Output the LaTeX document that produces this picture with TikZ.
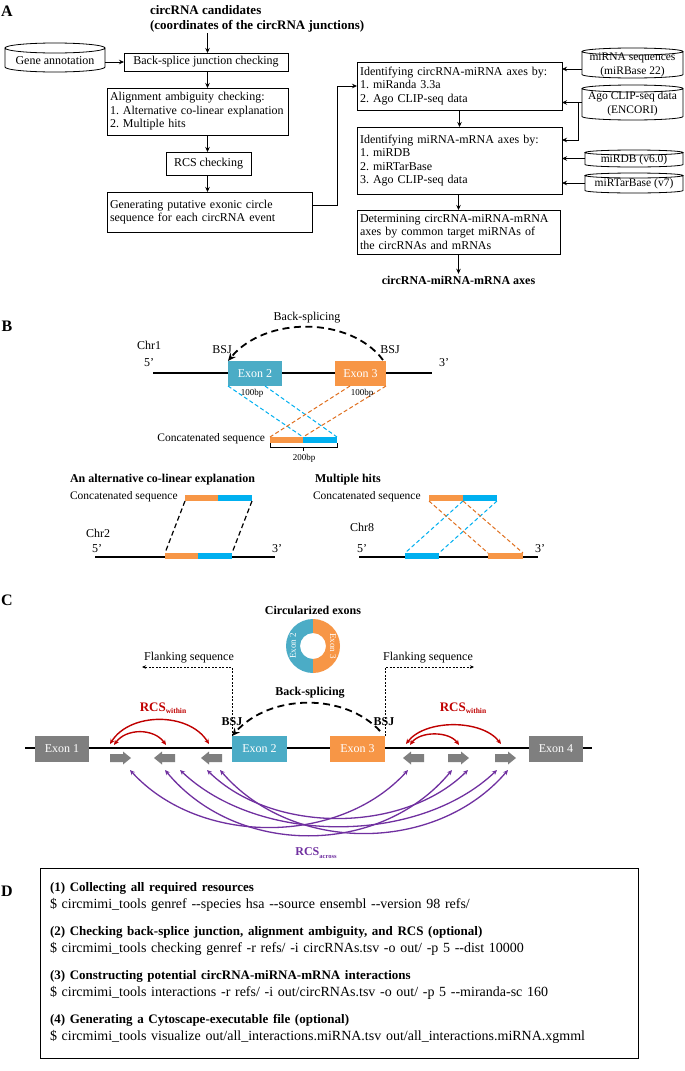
\documentclass[tikz,border=0pt]{standalone}
\usepackage{fontspec}
\setmainfont{Liberation Serif}
\usetikzlibrary{arrows.meta,calc}
\definecolor{exteal}{HTML}{4BACC6}
\definecolor{exorange}{HTML}{F79646}
\definecolor{barblue}{HTML}{00B0F0}
\definecolor{dorange}{HTML}{E07020}
\definecolor{exgray}{HTML}{7F7F7F}
\definecolor{rcsred}{HTML}{C00000}
\definecolor{rcspurple}{HTML}{7030A0}
\newcommand\drum[2][5pt]{%
  \draw[line width=0.8pt] let \p1=(#2.north west), \p2=(#2.south east), \n1={0.5*(\x2-\x1)} in
    ({0.5*(\x1+\x2)},\y1-#1) ellipse[x radius=\n1, y radius=#1]
    (\x1,\y1-#1) -- (\x1,\y2+#1) arc[start angle=180,end angle=360,x radius=\n1,y radius=#1] -- (\x2,\y1-#1);}
\newcommand\garrow[3]{%
  \fill[exgray, shift={(#1,#2)}, xscale=#3] (-10.5,-4) -- (2.5,-4) -- (2.5,-6.5) -- (10.5,0) -- (2.5,6.5) -- (2.5,4) -- (-10.5,4) -- cycle;}
\begin{document}
\frenchspacing\hyphenpenalty=10000\exhyphenpenalty=10000
\begin{tikzpicture}[x=1pt,y=-1pt,
  every node/.style={inner sep=0pt, outer sep=0pt, font=\fontsize{12}{13.5}\selectfont},
  lbl/.style={font=\fontsize{16}{16}\selectfont\bfseries},
  titl/.style={font=\fontsize{13}{15}\selectfont\bfseries},
  bold12/.style={font=\fontsize{12}{13.5}\selectfont\bfseries},
  small/.style={font=\fontsize{9}{10}\selectfont},
  cs/.style={font=\fontsize{11.5}{13}\selectfont},
  cyt/.style={align=center, font=\fontsize{11.5}{14}\selectfont},
  box/.style={draw, line width=0.8pt},
  lbox/.style={box, align=left, inner xsep=3pt},
  cyl/.style={draw=none},
  arr/.style={-{Stealth[length=5pt,width=4.5pt]}, line width=0.8pt},
  chrom/.style={line width=2pt},
  exbox/.style={text=white, font=\fontsize{12}{13.5}\selectfont},
  bar/.style={minimum height=6pt},
  bdash/.style={barblue, dashed, line width=1pt, dash pattern=on 4pt off 2.5pt},
  odash/.style={dorange, dashed, line width=1pt, dash pattern=on 4pt off 2.5pt},
  kdash/.style={black, line width=1.2pt, dash pattern=on 5pt off 3pt},
  bsarc/.style={line width=1.8pt, dash pattern=on 7pt off 4.5pt, -{Stealth[length=8pt,width=7pt]}},
  flank/.style={line width=0.7pt, dash pattern=on 2pt off 1.5pt, -{Stealth[length=4pt,width=3.5pt]}},
  rcsr/.style={rcsred, line width=1.4pt, {Stealth[length=5pt,width=4.5pt]}-{Stealth[length=5pt,width=4.5pt]}},
  rcsp/.style={rcspurple, line width=1.3pt, {Stealth[length=5pt,width=4.5pt]}-{Stealth[length=5pt,width=4.5pt]}}
]
\useasboundingbox[fill=white] (0,0) rectangle (685,1071);

% ================= Panel A =================
\node[lbl] (labA) at (7,11) {A};
\node[titl, anchor=west] (cand1) at (150,10) {circRNA candidates};
\node[titl, anchor=west] (cand2) at (150,26) {(coordinates of the circRNA junctions)};
\coordinate (colA) at (207.5,0);
\coordinate (cstart) at (207.5,33);
\node[box, minimum width=164pt, minimum height=18pt] (bsj) at (206,62) {Back-splice junction checking};
\draw[arr] (cstart) -- (bsj.north -| colA);

\node[cyl, minimum width=100pt, minimum height=29pt] (ga) at (55,57.5) {};
\drum{ga}
\node (gat) at (55,61) {Gene annotation};
\draw[arr] (ga.east |- bsj.west) -- (bsj.west);

\node[lbox, text width=175pt, minimum height=47pt] (aa) at (197.5,111.5)
  {Alignment ambiguity checking:\\1. Alternative co-linear explanation\\2. Multiple hits};
\draw[arr] (bsj.south -| colA) -- (aa.north -| colA);
\node[box, minimum width=85pt, minimum height=23pt] (rcs) at (208.5,163.5) {RCS checking};
\draw[arr] (aa.south -| colA) -- (rcs.north -| colA);
\node[lbox, text width=199pt, minimum height=40pt] (gen) at (209.5,212)
  {Generating putative exonic circle\\sequence for each circRNA event};
\draw[arr] (rcs.south -| colA) -- (gen.north -| colA);

\node[lbox, text width=199pt, minimum height=48pt] (cm) at (459.5,86)
  {Identifying circRNA-miRNA axes by:\\1. miRanda 3.3a\\2. Ago CLIP-seq data};
\draw[arr] ([yshift=7pt]gen.east) -- ++(25,0) |- (cm.west);

\node[lbox, text width=199pt, minimum height=67pt] (mm) at (459.5,160.5)
  {Identifying miRNA-mRNA axes by:\\1. miRDB\\2. miRTarBase\\3. Ago CLIP-seq data};
\draw[arr] (cm.south) -- (mm.north);

\node[cyl, minimum width=101pt, minimum height=30pt] (mirna) at (632.5,63) {};
\drum[3.5pt]{mirna}
\node[cyt] (mirnat) at (632.5,64.5) {miRNA sequences\\(miRBase 22)};
\draw[arr] ([yshift=-6pt]mirna.west) -- ([yshift=-6pt]mirna.west -| cm.east);

\node[cyl, minimum width=101pt, minimum height=35pt] (ago) at (632.5,102.5) {};
\drum[3.5pt]{ago}
\node[cyt] (agot) at (632.5,103.5) {Ago CLIP-seq data\\(ENCORI)};
\draw[arr] (ago.west) -- (ago.west -| cm.east);
\draw[arr] ([xshift=-4pt]ago.west) |- ([yshift=20.5pt]mm.east);

\node[cyl, minimum width=98pt, minimum height=17pt] (mirdb) at (634,158.5) {};
\drum[2.5pt]{mirdb}
\node[cyt] (mirdbt) at (634,159.5) {miRDB (v6.0)};
\draw[arr] (mirdb.west) -- (mirdb.west -| mm.east);

\node[cyl, minimum width=98pt, minimum height=20pt] (mirtar) at (634,183) {};
\drum[2.5pt]{mirtar}
\node[cyt] (mirtart) at (634,184) {miRTarBase (v7)};
\draw[arr] (mirtar.west) -- (mirtar.west -| mm.east);

\node[lbox, text width=197pt, minimum height=44pt] (det) at (458.5,232)
  {Determining circRNA-miRNA-mRNA\\axes by common target miRNAs of\\the circRNAs and mRNAs};
\draw[arr] (mm.south -| det.north) -- (det.north);
\node[bold12] (axes) at (458.5,280) {circRNA-miRNA-mRNA axes};
\draw[arr] (det.south) -- ([yshift=2pt]axes.north);

% ================= Panel B =================
\node[lbl] (labB) at (7,326) {B};
\node (bsB) at (307,318) {Back-splicing};
\node (chr1) at (149,345) {Chr1};
\node (p5a) at (149,363) {5’};
\node (p3a) at (444,363) {3’};
\coordinate (c1l) at (153,373);
\coordinate (c1r) at (432,373);
\draw[chrom] (c1l) -- (c1r);
\node[exbox, fill=exteal, minimum width=54pt, minimum height=25pt] (e2) at (255,373.5) {Exon 2};
\node[exbox, fill=exorange, minimum width=51pt, minimum height=25pt] (e3) at (360.5,373.5) {Exon 3};
\node (bsjL) at (222,350) {BSJ};
\node (bsjR) at (390,350) {BSJ};
\draw[bsarc] ([shift={(-3,-1)}]e3.north east) .. controls (350,316) and (265,316) .. (e2.north west);

\node[bar, fill=exorange, minimum width=33pt] (cbo) at (286.5,440) {};
\node[bar, fill=barblue, minimum width=34pt] (cbb) at (320,440) {};
\draw[bdash] (e2.south west) -- (cbb.north west);
\draw[bdash] ([xshift=37pt]e2.south west) -- (cbb.north east);
\draw[odash] ([xshift=-36pt]e3.south east) -- (cbo.north west);
\draw[odash] (e3.south east) -- (cbo.north east);
\node[small] (l100a) at (252,393) {100bp};
\node[small] (l100b) at (362,393) {100bp};
\node[cs, anchor=east] (cs1) at (265,439) {Concatenated sequence};
\draw[line width=0.6pt] (cbo.south west) -- ++(0,4) -| (cbb.south east);
\draw[line width=0.6pt] ([yshift=-4pt]cbo.south east) -- ++(0,4);
\node[small] (l200) at (304,458) {200bp};

\node[bold12, anchor=west] (altT) at (70,480) {An alternative co-linear explanation};
\node[cs, anchor=west] (cs2) at (70,497) {Concatenated sequence};
\node[bar, fill=exorange, minimum width=33pt] (aco) at (201.5,498) {};
\node[bar, fill=barblue, minimum width=34pt] (acb) at (235,498) {};
\node (chr2) at (98,533) {Chr2};
\node (p5b) at (97,549) {5’};
\node (p3b) at (277,549) {3’};
\coordinate (c2l) at (95,557);
\coordinate (c2r) at (275,557);
\draw[chrom] (c2l) -- (c2r);
\node[bar, fill=exorange, minimum width=33pt] (c2o) at (181.5,556) {};
\node[bar, fill=barblue, minimum width=34pt] (c2b) at (215,556) {};
\draw[kdash] (aco.south west) -- (c2o.north west);
\draw[kdash] (acb.south east) -- (c2b.north east);

\node[bold12, anchor=west] (mhT) at (315,480) {Multiple hits};
\node[cs, anchor=west] (cs3) at (313,497) {Concatenated sequence};
\node (chr8) at (362,527) {Chr8};
\node (p5c) at (362,549) {5’};
\node (p3c) at (540,549) {3’};
\coordinate (c8l) at (359,557);
\coordinate (c8r) at (538,557);
\draw[chrom] (c8l) -- (c8r);
\node[bar, fill=barblue, minimum width=34pt] (c8b) at (422,556) {};
\node[bar, fill=exorange, minimum width=35pt] (c8o) at (505.5,556) {};
\node[bar, fill=exorange, minimum width=34pt] (mho) at (446,498) {};
\node[bar, fill=barblue, minimum width=34pt] (mhb) at (480,498) {};
\draw[bdash] (mhb.south west) -- (c8b.north west);
\draw[bdash] (mhb.south east) -- (c8b.north east);
\draw[odash] (mho.south west) -- (c8o.north west);
\draw[odash] (mho.south east) -- (c8o.north east);

% ================= Panel C =================
\node[lbl] (labC) at (7,600) {C};
\node[bold12] (circT) at (313,610) {Circularized exons};
\node[circle, minimum size=54pt] (ring) at (313,646) {};
\fill[exteal] (ring.north) arc[start angle=90,end angle=270,radius=27pt] -- (313,659) arc[start angle=270,end angle=90,radius=13pt] -- cycle;
\fill[exorange] (ring.north) arc[start angle=90,end angle=-90,radius=27pt] -- (313,659) arc[start angle=-90,end angle=90,radius=13pt] -- cycle;
\node[rotate=90, text=white, font=\fontsize{9}{9}\selectfont] (re2) at (293,646) {Exon 2};
\node[rotate=-90, text=white, font=\fontsize{9}{9}\selectfont] (re3) at (333,646) {Exon 3};

\node[bold12] (bsC) at (310,693) {Back-splicing};
\coordinate (mll) at (25,748);
\coordinate (mlr) at (592,748);
\draw[line width=2.2pt] (mll) -- (mlr);
\node[exbox, fill=exgray, minimum width=54pt, minimum height=26pt] (E1) at (62,749) {Exon 1};
\node[exbox, fill=exteal, minimum width=55pt, minimum height=26pt] (E2) at (259.5,749) {Exon 2};
\node[exbox, fill=exorange, minimum width=55pt, minimum height=26pt] (E3) at (357.5,749) {Exon 3};
\node[exbox, fill=exgray, minimum width=54pt, minimum height=26pt] (E4) at (556,749) {Exon 4};

\node (flL) at (189,658) {Flanking sequence};
\node (flR) at (428,658) {Flanking sequence};
\draw[flank] (E2.north west) -- ++(0,-69) -- ++(-90,0);
\draw[flank] (E3.north east) -- ++(0,-69) -- ++(89,0);
\node[bold12] (bsjCL) at (232,722) {BSJ};
\node[bold12] (bsjCR) at (384,722) {BSJ};
\draw[bsarc] ([shift={(-5,-5)}]E3.north east) .. controls (345,693) and (270,693) .. (E2.north west);

% gray repeat arrows
\garrow{120.5}{758}{1}
\garrow{164.5}{758}{-1}
\garrow{211.5}{758}{-1}
\garrow{413.5}{758}{-1}
\garrow{458.5}{758}{1}
\garrow{505.5}{758}{1}

% RCS within
\node[text=rcsred, font=\fontsize{13}{13}\selectfont\bfseries] (rwL) at (163,708) {RCS\raisebox{-2.5pt}{\fontsize{7.5}{7.5}\selectfont within}};
\node[text=rcsred, font=\fontsize{13}{13}\selectfont\bfseries] (rwR) at (463,708) {RCS\raisebox{-2.5pt}{\fontsize{7.5}{7.5}\selectfont within}};
\coordinate (r1a) at (110,744); \coordinate (r1b) at (209,744);
\coordinate (r2a) at (114,745); \coordinate (r2b) at (166,745);
\coordinate (r3a) at (406,744); \coordinate (r3b) at (501,744);
\coordinate (r4a) at (410,745); \coordinate (r4b) at (459,745);
\draw[rcsr] (r1a) .. controls (130,712) and (189,712) .. (r1b);
\draw[rcsr] (r2a) .. controls (126,728) and (154,728) .. (r2b);
\draw[rcsr] (r3a) .. controls (425,719) and (482,719) .. (r3b);
\draw[rcsr] (r4a) .. controls (420,731) and (449,731) .. (r4b);

% RCS across
\coordinate (q1a) at (130,770); \coordinate (q1b) at (408,770);
\coordinate (q2a) at (165,770); \coordinate (q2b) at (452,770);
\coordinate (q3a) at (180,770); \coordinate (q3b) at (497,770);
\coordinate (q4a) at (207,770); \coordinate (q4b) at (468,770);
\coordinate (q5a) at (220,770); \coordinate (q5b) at (508,770);
\draw[rcsp] (q1a) .. controls (199,846) and (339,846) .. (q1b);
\draw[rcsp] (q2a) .. controls (237,857) and (380,857) .. (q2b);
\draw[rcsp] (q3a) .. controls (259,845) and (418,845) .. (q3b);
\draw[rcsp] (q4a) .. controls (272,834) and (403,834) .. (q4b);
\draw[rcsp] (q5a) .. controls (292,854) and (436,854) .. (q5b);
\node[text=rcspurple, font=\fontsize{12}{12}\selectfont\bfseries] (raT) at (316,853) {RCS\raisebox{-2.5pt}{\fontsize{6.5}{6.5}\selectfont across}};

% ================= Panel D =================
\node[lbl] (labD) at (7,891) {D};
\node[box, text width=578pt, inner xsep=10pt, align=left, minimum height=190pt, font=\fontsize{14}{17}\selectfont] (cmd) at (339,963) {%
{\bfseries\fontsize{13}{17}\selectfont (1) Collecting all required resources}\\
\$ circmimi\_tools genref -{}-species hsa -{}-source ensembl -{}-version 98 refs/\\[10pt]
{\bfseries\fontsize{13}{17}\selectfont (2) Checking back-splice junction, alignment ambiguity, and RCS (optional)}\\
\$ circmimi\_tools checking genref -r refs/ -i circRNAs.tsv -o out/ -p 5 -{}-dist 10000\\[10pt]
{\bfseries\fontsize{13}{17}\selectfont (3) Constructing potential circRNA-miRNA-mRNA interactions}\\
\$ circmimi\_tools interactions -r refs/ -i out/circRNAs.tsv -o out/ -p 5 -{}-miranda-sc 160\\[10pt]
{\bfseries\fontsize{13}{17}\selectfont (4) Generating a Cytoscape-executable file (optional)}\\
\$ circmimi\_tools visualize out/all\_interactions.miRNA.tsv out/all\_interactions.miRNA.xgmml};
\end{tikzpicture}
\end{document}
